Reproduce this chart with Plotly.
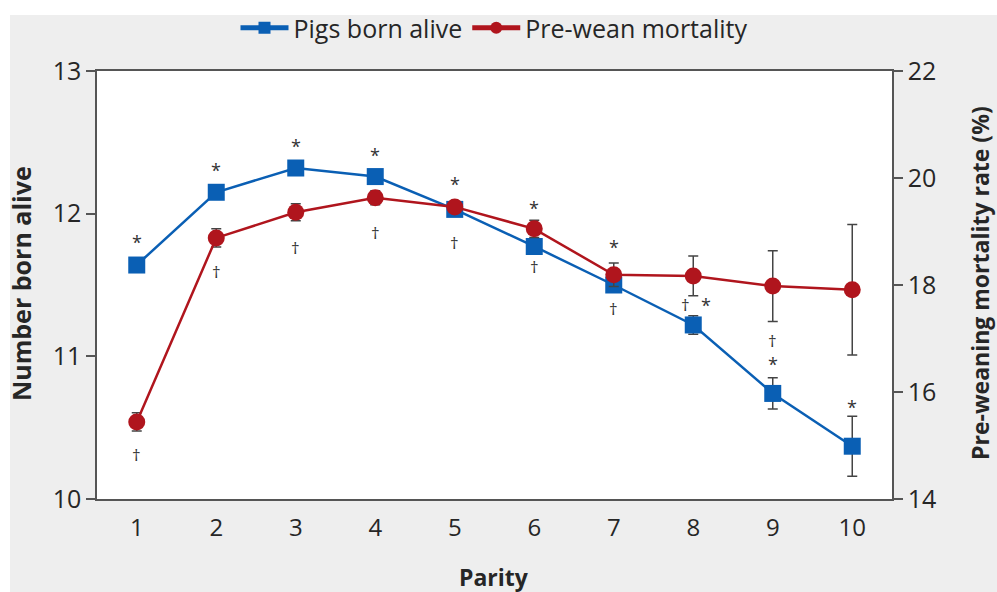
import plotly.graph_objects as go

parity = [1, 2, 3, 4, 5, 6, 7, 8, 9, 10]
tick_labels = ["1", "2", "3", "4", "5", "6", "7", "8", "9", "10"]
born_alive = [11.64, 12.15, 12.32, 12.26, 12.03, 11.77, 11.50, 11.22, 10.74, 10.37]
born_alive_err = [0.03, 0.03, 0.03, 0.03, 0.03, 0.03, 0.04, 0.065, 0.11, 0.21]
mortality = [15.44, 18.88, 19.36, 19.63, 19.46, 19.05, 18.19, 18.17, 17.98, 17.91]
mortality_err = [0.17, 0.17, 0.16, 0.13, 0.10, 0.16, 0.22, 0.37, 0.66, 1.22]

# significance markers: (parity, symbol, anchored series, pixel offset y, pixel offset x)
sig_parity = [1, 1, 2, 2, 3, 3, 4, 4, 5, 5, 6, 6, 7, 7, 8, 8, 9, 9, 10]
sig_symbol = ["*", "†", "*", "†", "*", "†", "*", "†", "*", "†", "*", "†", "*", "†", "†", "*", "†", "*", "*"]
sig_series = ["b", "r", "b", "r", "b", "r", "b", "r", "b", "r", "r", "b", "r", "b", "b", "b", "b", "b", "b"]
sig_dy = [23, -33, 22, -34, 22, -35, 22, -35, 25, -36, 21, -20, 28, -23, 20, 20, 53, 29, 39]
sig_dx = [0, 0, 0, 0, 0, 0, 0, 0, 0, 0, 0, 0, 0, 0, -8, 13, 0, 0, 0]

BLUE = "#0a5fb4"
RED = "#b0151d"
AXIS = "#555555"
TXT = "#262626"
FONT = "Open Sans"

fig = go.Figure()
fig.add_trace(go.Scatter(
    x=parity, y=born_alive, name="Pigs born alive", mode="lines+markers",
    line=dict(color=BLUE, width=2.5),
    marker=dict(symbol="square", size=17, color=BLUE),
    error_y=dict(type="data", array=born_alive_err, color="#444444", thickness=1.5, width=5),
    yaxis="y",
))
fig.add_trace(go.Scatter(
    x=parity, y=mortality, name="Pre-wean mortality", mode="lines+markers",
    line=dict(color=RED, width=2.5),
    marker=dict(symbol="circle", size=17, color=RED),
    error_y=dict(type="data", array=mortality_err, color="#444444", thickness=1.5, width=5),
    yaxis="y2",
))

annotations = []
for p, s, ser, dy, dx in zip(sig_parity, sig_symbol, sig_series, sig_dy, sig_dx):
    if ser == "b":
        yv = born_alive[p - 1]
        yref = "y"
    else:
        yv = mortality[p - 1]
        yref = "y2"
    annotations.append(dict(
        x=p, y=yv, xref="x", yref=yref, text=s, showarrow=False,
        yshift=dy, xshift=dx,
        font=dict(family=FONT, size=18 if s == "*" else 17, color="#333333"),
    ))

annotations += [
    dict(text="<b>Number born alive</b>", xref="paper", yref="paper", x=(21 - 97) / 795, y=(499 - 284) / 428,
         textangle=-90, showarrow=False, font=dict(family=FONT, size=25, color=TXT),
         xanchor="center", yanchor="middle"),
    dict(text="<b>Pre-weaning mortality rate (%)</b>", xref="paper", yref="paper",
         x=(980 - 97) / 795, y=(499 - 283) / 428,
         textangle=-90, showarrow=False, font=dict(family=FONT, size=23, color=TXT),
         xanchor="center", yanchor="middle"),
    dict(text="<b>Parity</b>", xref="paper", yref="paper", x=(494 - 97) / 795, y=-78 / 428,
         showarrow=False, font=dict(family=FONT, size=23, color=TXT),
         xanchor="center", yanchor="middle"),
]

xtick_font = dict(family=FONT, size=24, color=TXT)
ytick_font = dict(family=FONT, size=25, color=TXT)
boundaries = [v + 0.5 for v in [0] + parity]

common = dict(automargin=False, showgrid=False, zeroline=False)

fig.update_layout(
    width=997, height=592,
    margin=dict(l=97, r=105, t=71, b=93, autoexpand=False),
    paper_bgcolor="#eeeeee",
    plot_bgcolor="white",
    font=dict(family=FONT, color=TXT),
    showlegend=True,
    legend=dict(orientation="h", x=(494 - 97) / 795, xanchor="center", y=1 + 43 / 428, yanchor="middle",
                font=dict(family=FONT, size=25, color=TXT), bgcolor="rgba(0,0,0,0)",
                tracegroupgap=0, itemwidth=48, itemsizing="constant"),
    xaxis=dict(range=[0.5, 10.5], tickvals=parity, ticktext=tick_labels, ticks="",
               showline=True, linecolor=AXIS, linewidth=1.5, mirror=True,
               tickfont=xtick_font, ticklabelstandoff=6, **common),
    xaxis2=dict(range=[0.5, 10.5], overlaying="x", anchor="y", side="bottom",
                tickvals=boundaries, ticks="outside", ticklen=7, tickwidth=1.5, tickcolor=AXIS,
                showticklabels=False, showline=False, **common),
    xaxis3=dict(range=[0.5, 10.5], overlaying="x", anchor="y", side="bottom",
                tickvals=boundaries, ticks="inside", ticklen=7, tickwidth=1.5, tickcolor=AXIS,
                showticklabels=False, showline=False, **common),
    yaxis=dict(range=[10, 13], tickvals=[10, 11, 12, 13], ticks="outside", ticklen=9,
               tickwidth=1.5, tickcolor=AXIS, showline=True, linecolor=AXIS, linewidth=1.5,
               tickfont=ytick_font, **common),
    yaxis2=dict(range=[14, 22], tickvals=[14, 16, 18, 20, 22], ticks="outside", ticklen=9,
                tickwidth=1.5, tickcolor=AXIS, showline=True, linecolor=AXIS, linewidth=1.5,
                side="right", overlaying="y", anchor="x",
                tickfont=ytick_font, **common),
    yaxis3=dict(range=[10, 13], tickvals=[10, 11, 12, 13], ticks="inside", ticklen=9,
                tickwidth=1.5, tickcolor=AXIS, showticklabels=False, showline=False,
                overlaying="y", anchor="x", side="left", **common),
    yaxis4=dict(range=[14, 22], tickvals=[14, 16, 18, 20, 22], ticks="inside", ticklen=9,
                tickwidth=1.5, tickcolor=AXIS, showticklabels=False, showline=False,
                overlaying="y", anchor="x", side="right", **common),
    annotations=annotations,
    shapes=[
        dict(type="rect", xref="paper", yref="paper", x0=-0.2, x1=1.2, y0=1.0 + 56 / 428, y1=1.25,
             fillcolor="white", line=dict(width=0), layer="below"),
        dict(type="rect", xref="paper", yref="paper", x0=-0.2, x1=-87 / 795, y0=-0.3, y1=1.3,
             fillcolor="white", line=dict(width=0), layer="below"),
    ],
)

fig.write_html("out.html", config={"displayModeBar": False},
               post_script="document.body.style.margin='0px';document.body.style.overflow='hidden';")
